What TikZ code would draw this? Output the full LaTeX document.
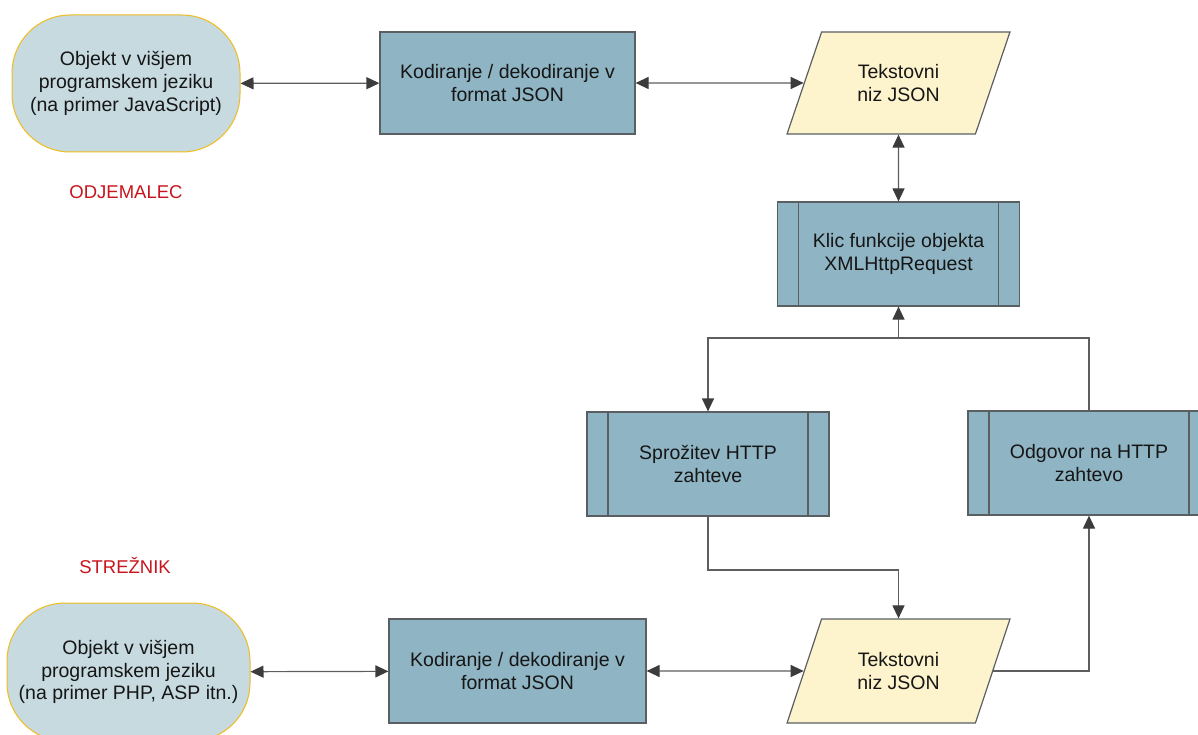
\documentclass[tikz,border=0pt]{standalone}
\usepackage{fontspec}
\setmainfont{Liberation Sans}
\usetikzlibrary{arrows.meta,shapes.geometric}

\definecolor{boxfill}{HTML}{8FB4C3}
\definecolor{boxline}{HTML}{5A5F62}
\definecolor{objfill}{HTML}{C6DAE0}
\definecolor{objline}{HTML}{F0BC1C}
\definecolor{datafill}{HTML}{FDF4CE}
\definecolor{conn}{HTML}{5E5E5E}
\definecolor{tip}{HTML}{3C3C3C}
\definecolor{sidered}{HTML}{C8141C}
\definecolor{txt}{HTML}{161616}

\tikzset{
  every node/.style={font=\fontsize{19.5}{22.6}\selectfont, text=txt, align=center},
  objnode/.style={draw=objline, fill=objfill, line width=1pt, rectangle,
    rounded corners=58pt, inner sep=0pt},
  procbox/.style={draw=boxline, fill=boxfill, line width=1.2pt, rectangle,
    inner sep=0pt},
  subproc/.style={procbox, minimum width=242pt, minimum height=104pt,
    path picture={
      \draw[boxline, line width=1.2pt]
        ([xshift=21pt]path picture bounding box.north west) --
        ([xshift=21pt]path picture bounding box.south west);
      \draw[boxline, line width=1.2pt]
        ([xshift=-21pt]path picture bounding box.north east) --
        ([xshift=-21pt]path picture bounding box.south east);
    }},
  datanode/.style={draw=boxline, fill=datafill, line width=1.2pt,
    trapezium, trapezium left angle=63.4, trapezium right angle=116.6,
    trapezium stretches=true, minimum width=223pt, inner sep=0pt},
  conn/.style={draw=conn, line width=1.2pt,
    arrows={-{Triangle[length=13pt,width=12pt,color=tip]}}},
  biconn/.style={draw=conn, line width=1.2pt,
    arrows={{Triangle[length=13pt,width=12pt,color=tip]}-{Triangle[length=13pt,width=12pt,color=tip]}}},
  sidelabel/.style={text=sidered, font=\fontsize{18.5}{21}\selectfont}
}

\begin{document}
\begin{tikzpicture}[x=1pt, y=-1pt]
  \useasboundingbox (0,0) rectangle (1198,735);
  \clip (0,0) rectangle (1198,735);

  % client side
  \node[objnode, minimum width=228pt, minimum height=137pt] (obj1) at (126,83.5)
    {Objekt v višjem\\programskem jeziku\\(na primer JavaScript)};
  \node[procbox, minimum width=255pt, minimum height=102pt] (kod1) at (507.5,83)
    {Kodiranje / dekodiranje v\\format JSON};
  \node[datanode, minimum height=102pt] (tek1) at (898.5,83)
    {Tekstovni\\niz JSON};
  \node[subproc] (klic) at (898.5,254)
    {Klic funkcije objekta\\XMLHttpRequest};
  \node[sidelabel] (odj) at (126,192) {ODJEMALEC};

  % transport
  \node[subproc] (spr) at (708,464) {Sprožitev HTTP\\zahteve};
  \node[subproc] (odg) at (1089,463) {Odgovor na HTTP\\zahtevo};

  % server side
  \node[sidelabel] (str) at (125,566) {STREŽNIK};
  \node[objnode, minimum width=243pt, minimum height=138pt] (obj2) at (128.5,672)
    {Objekt v višjem\\programskem jeziku\\(na primer PHP, ASP itn.)};
  \node[procbox, minimum width=257pt, minimum height=104pt] (kod2) at (517.5,671)
    {Kodiranje / dekodiranje v\\format JSON};
  \node[datanode, minimum height=104pt] (tek2) at (898.5,671)
    {Tekstovni\\niz JSON};

  % junctions
  \coordinate (j1) at (898.5,338);
  \coordinate (j2) at (898.5,570);

  % connectors
  \draw[biconn] (obj1) -- (kod1);
  \draw[biconn] (kod1) -- (tek1);
  \draw[biconn] (tek1) -- (klic);
  \draw[conn] (odg.north) |- (j1) -- (klic.south);
  \draw[conn] (j1) -| (spr.north);
  \draw[conn] (spr.south) |- (j2) -- (tek2);
  \draw[conn] (tek2) -| (odg.south);
  \draw[biconn] (obj2) -- (kod2);
  \draw[biconn] (kod2) -- (tek2);
\end{tikzpicture}
\end{document}
